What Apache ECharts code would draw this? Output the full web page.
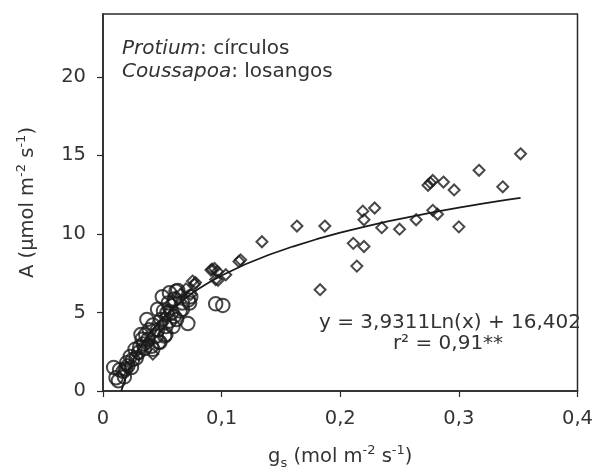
<!DOCTYPE html>
<html>
<head>
<meta charset="utf-8">
<script src="https://cdn.jsdelivr.net/npm/echarts@6/dist/echarts.min.js"></script>
<style>html,body{margin:0;padding:0;background:#fff}#c{width:596px;height:475px}</style>
</head>
<body>
<div id="c"></div>
<script>
// Protium (circles)
const protiumX = [0.009,0.011,0.013,0.014,0.017,0.018,0.019,0.020,0.021,0.023,0.024,0.025,0.027,0.028,0.030,0.031,0.032,0.033,0.034,0.035,0.036,0.037,0.038,0.039,0.041,0.042,0.042,0.045,0.046,0.046,0.047,0.048,0.049,0.050,0.051,0.052,0.053,0.053,0.054,0.055,0.056,0.056,0.058,0.059,0.060,0.060,0.0615,0.062,0.063,0.065,0.067,0.067,0.0715,0.072,0.073,0.074,0.095,0.101];
const protiumY = [1.5,0.85,0.65,1.35,1.25,0.9,1.4,1.8,1.6,2.2,1.5,2.0,2.65,2.1,2.45,2.8,3.6,3.3,3.0,2.7,3.6,4.55,3.3,3.9,2.85,4.2,2.65,3.5,3.9,5.2,3.1,3.1,4.55,6.0,5.1,3.5,4.1,3.6,5.0,5.6,6.25,4.45,5.0,4.1,4.75,5.85,6.35,4.55,6.4,5.1,5.2,5.6,4.3,5.8,5.6,6.0,5.55,5.45];
// Coussapoa (diamonds)
const coussapoaX = [0.020,0.030,0.042,0.038,0.045,0.050,0.052,0.055,0.058,0.062,0.066,0.070,0.074,0.0755,0.077,0.078,0.091,0.092,0.094,0.0964,0.095,0.097,0.1035,0.1146,0.116,0.134,0.1635,0.183,0.187,0.211,0.214,0.219,0.220,0.220,0.229,0.235,0.250,0.264,0.274,0.276,0.278,0.278,0.282,0.287,0.296,0.300,0.317,0.337,0.352];
const coussapoaY = [1.5,2.3,2.35,3.0,3.8,4.3,4.7,5.2,5.6,6.0,6.2,6.5,6.15,7.0,6.8,6.9,7.7,7.75,7.8,7.6,7.1,7.05,7.4,8.25,8.35,9.5,10.5,6.45,10.5,9.4,7.95,11.45,10.9,9.2,11.65,10.4,10.3,10.9,13.1,13.25,13.4,11.5,11.25,13.3,12.8,10.45,14.05,13.0,15.1];
// Fitted curve printed on the chart: y = 3,9311 Ln(x) + 16,402
const fitA = 3.9311, fitB = 16.402;
const fitX = [0.0154,0.018,0.021,0.025,0.03,0.035,0.04,0.05,0.06,0.07,0.08,0.09,0.1,0.12,0.14,0.16,0.18,0.2,0.22,0.24,0.26,0.28,0.3,0.32,0.34,0.352];
const xTicks = [0,0.1,0.2,0.3,0.4];
const yTicks = [0,5,10,15,20];

const zip = (xs, ys) => xs.map((x, i) => [x, ys[i]]);
const fitData = fitX.map(x => [x, fitA * Math.log(x) + fitB]);

const FONT = 'DejaVu Sans';
const TXT = '#333333';
const INK = '#1a1a1a';
const FS = 20;

const chart = echarts.init(document.getElementById('c'), null, {renderer: 'canvas'});
chart.setOption({
  animation: false,
  backgroundColor: '#fff',
  grid: {left: 103, right: 15.5, top: 14, bottom: 83.5, show: true, borderColor: '#2a2a2a', borderWidth: 1.5, backgroundColor: 'transparent'},
  xAxis: {
    type: 'value', min: 0, max: 0.4, interval: 0.1,
    axisLine: {show: true, lineStyle: {color: '#2a2a2a', width: 1.5}},
    axisTick: {show: true, length: 6, inside: false, customValues: xTicks, lineStyle: {color: '#2a2a2a', width: 1.2}},
    axisLabel: {customValues: xTicks, fontFamily: FONT, fontSize: 19.5, color: TXT, margin: 18,
      formatter: v => v === 0 ? '0' : v.toFixed(1).replace('.', ',')},
    splitLine: {show: false},
    name: '{a|g}{sub|s}{a| (mol m}{sup|-2}{a| s}{sup|-1}{a|)}',
    nameLocation: 'middle', nameGap: 53,
    nameTextStyle: {fontFamily: FONT, fontSize: 19.5, color: TXT,
      rich: {
        a: {fontFamily: FONT, fontSize: 19.5, color: TXT, lineHeight: 26},
        sub: {fontFamily: FONT, fontSize: 13, color: TXT, lineHeight: 16, verticalAlign: 'bottom'},
        sup: {fontFamily: FONT, fontSize: 13, color: TXT, lineHeight: 16, verticalAlign: 'top'}
      }}
  },
  yAxis: {
    type: 'value', min: 0, max: 24, interval: 5,
    axisLine: {show: true, lineStyle: {color: '#2a2a2a', width: 1.5}},
    axisTick: {show: true, length: 6, inside: false, customValues: yTicks, lineStyle: {color: '#2a2a2a', width: 1.2}},
    axisLabel: {customValues: yTicks, fontFamily: FONT, fontSize: 19.5, color: TXT, margin: 17},
    splitLine: {show: false},
    name: '{a|A (µmol m}{sup|-2}{a| s}{sup|-1}{a|)}',
    nameLocation: 'middle', nameGap: 62,
    nameTextStyle: {fontFamily: FONT, fontSize: 19.5, color: TXT,
      rich: {
        a: {fontFamily: FONT, fontSize: 19.5, color: TXT, lineHeight: 26},
        sup: {fontFamily: FONT, fontSize: 13, color: TXT, lineHeight: 16, verticalAlign: 'top'}
      }}
  },
  series: [
    {type: 'line', data: fitData, showSymbol: false, symbol: 'none', silent: true, z: 1,
      lineStyle: {color: INK, width: 1.8}},
    {type: 'scatter', name: 'Protium', data: zip(protiumX, protiumY), symbol: 'circle', symbolSize: 13.5, z: 2,
      itemStyle: {color: 'rgba(0,0,0,0)', borderColor: INK, borderWidth: 2}},
    {type: 'scatter', name: 'Coussapoa', data: zip(coussapoaX, coussapoaY), symbol: 'diamond', symbolSize: 11, z: 3,
      itemStyle: {color: 'rgba(0,0,0,0)', borderColor: INK, borderWidth: 2}}
  ],
  graphic: [
    {type: 'text', left: 122, top: 39, z: 10, style: {
      text: '{i|Protium}{a|: círculos}',
      rich: {i: {fontFamily: FONT, fontSize: FS, fontStyle: 'italic', fill: TXT}, a: {fontFamily: FONT, fontSize: FS, fill: TXT}}}},
    {type: 'text', left: 122, top: 62, z: 10, style: {
      text: '{i|Coussapoa}{a|: losangos}',
      rich: {i: {fontFamily: FONT, fontSize: FS, fontStyle: 'italic', fill: TXT}, a: {fontFamily: FONT, fontSize: FS, fill: TXT}}}},
    {type: 'text', z: 10, x: 581, y: 323, style: {
      text: 'y = 3,9311Ln(x) + 16,402', fontFamily: FONT, fontSize: FS, fill: TXT, align: 'right', verticalAlign: 'middle'}},
    {type: 'text', z: 10, x: 448, y: 344, style: {
      text: 'r² = 0,91**', fontFamily: FONT, fontSize: FS, fill: TXT, align: 'center', verticalAlign: 'middle'}}
  ]
});
</script>
</body>
</html>
